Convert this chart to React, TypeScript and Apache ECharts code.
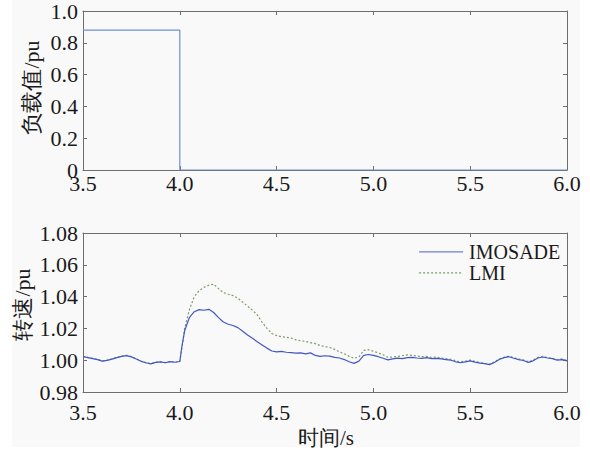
import React, { useEffect, useRef } from "react";
import * as echarts from "echarts";

// Upper panel: load step
const loadTimes = [3.5, 4.0, 4.0, 6.0];
const loadValues = [0.88, 0.88, 0.0, 0.0];

// Lower panel: speed
const times = [
  3.5, 3.525, 3.55, 3.575, 3.6, 3.625, 3.65, 3.675, 3.7, 3.725, 3.75, 3.775, 3.8, 3.825, 3.85, 3.875, 3.9, 3.925, 3.95, 3.975,
  4.0, 4.01, 4.025, 4.05, 4.075, 4.1, 4.125, 4.15, 4.175, 4.2, 4.225, 4.25, 4.275, 4.3, 4.325, 4.35, 4.375, 4.4, 4.425, 4.45, 4.475,
  4.5, 4.525, 4.55, 4.575, 4.6, 4.625, 4.65, 4.675, 4.7, 4.725, 4.75, 4.775, 4.8, 4.825, 4.85, 4.875, 4.9, 4.925, 4.95, 4.975,
  5.0, 5.025, 5.05, 5.075, 5.1, 5.125, 5.15, 5.175, 5.2, 5.225, 5.25, 5.275, 5.3, 5.325, 5.35, 5.375, 5.4, 5.425, 5.45, 5.475,
  5.5, 5.525, 5.55, 5.575, 5.6, 5.625, 5.65, 5.675, 5.7, 5.725, 5.75, 5.775, 5.8, 5.825, 5.85, 5.875, 5.9, 5.925, 5.95, 5.975, 6.0,
];

const imosade = [
  1.0022, 1.0016, 1.001, 1.0004, 0.9994, 0.9999, 1.0007, 1.0016, 1.0024, 1.0029, 1.0021, 1.0008, 0.9993, 0.9984, 0.9977, 0.9986, 0.9989, 0.9984, 0.9991, 0.9987,
  0.9992, 1.008, 1.0185, 1.027, 1.0305, 1.0318, 1.0314, 1.032, 1.03, 1.0268, 1.024, 1.0226, 1.0218, 1.0205, 1.0182, 1.0158, 1.0138, 1.0116, 1.0096, 1.0076, 1.0058,
  1.0052, 1.0056, 1.005, 1.0048, 1.0044, 1.0046, 1.004, 1.0046, 1.003, 1.0024, 1.0028, 1.0026, 1.0018, 1.0014, 1.0004, 0.999, 0.998, 0.9994, 1.003, 1.0036,
  1.003, 1.0022, 1.0012, 1.0002, 1.0008, 1.0013, 1.001, 1.0016, 1.0018, 1.0014, 1.0012, 1.0016, 1.001, 1.0012, 1.0008, 1.0004, 1.0, 0.999, 0.9984, 0.999,
  0.9996, 0.9988, 0.9982, 0.9978, 0.9972, 0.9986, 1.0004, 1.0016, 1.0022, 1.0012, 1.0004, 0.9998, 0.9986, 0.9996, 1.0014, 1.002, 1.0014, 1.001, 1.0, 1.0004, 0.9996,
];

const lmi = [
  1.0024, 1.0018, 1.0012, 1.0005, 0.9995, 1.0001, 1.0009, 1.0018, 1.0026, 1.0031, 1.0022, 1.0009, 0.9994, 0.9985, 0.9978, 0.9987, 0.999, 0.9985, 0.9992, 0.9988,
  0.9992, 1.007, 1.02, 1.032, 1.04, 1.0438, 1.0458, 1.0472, 1.0478, 1.045, 1.0425, 1.0415, 1.0406, 1.039, 1.0365, 1.034, 1.0315, 1.0285, 1.024, 1.02, 1.0168,
  1.0155, 1.0148, 1.0144, 1.014, 1.0128, 1.0122, 1.0118, 1.011, 1.0104, 1.0092, 1.0086, 1.008, 1.0068, 1.0052, 1.004, 1.0024, 1.0012, 1.002, 1.0062, 1.0066,
  1.0056, 1.0046, 1.0034, 1.0018, 1.002, 1.0024, 1.0028, 1.0034, 1.003, 1.0026, 1.0022, 1.0024, 1.0018, 1.002, 1.0014, 1.001, 1.0006, 0.9996, 0.999, 0.9994,
  1.0, 0.9992, 0.9986, 0.998, 0.9975, 0.999, 1.0008, 1.0018, 1.0026, 1.0016, 1.0008, 1.0002, 0.999, 1.0, 1.0018, 1.0024, 1.0016, 1.0012, 1.0004, 1.0008, 0.9998,
];

// Tick labels
const xTicks = [3.5, 4.0, 4.5, 5.0, 5.5, 6.0];
const xTickLabels = ["3.5", "4.0", "4.5", "5.0", "5.5", "6.0"];
const yTopTicks = [0, 0.2, 0.4, 0.6, 0.8, 1.0];
const yTopTickLabels = ["0", "0.2", "0.4", "0.6", "0.8", "1.0"];
const yBottomTicks = [0.98, 1.0, 1.02, 1.04, 1.06, 1.08];
const yBottomTickLabels = ["0.98", "1.00", "1.02", "1.04", "1.06", "1.08"];

const seriesNames = ["IMOSADE", "LMI"];
const xTitle = "时间/s";
const yTitleTop = "负载值/pu";
const yTitleBottom = "转速/pu";

const TICK_FONT = "22px Liberation Serif";
const NAME_FONT = "22px Liberation Serif";
const LEGEND_FONT = "20px Liberation Serif";
const AXIS_COLOR = "#6e6e6e";
const TEXT_COLOR = "#1a1a1a";
const BLUE = "#4357c4";
const GREEN = "#7f9c68";

export default function App() {
  const ref = useRef<HTMLDivElement>(null);

  useEffect(() => {
    document.body.style.margin = "0";
    document.body.style.background = "#ffffff";
    const chart = echarts.init(ref.current!, null, { renderer: "svg" });

    const xAxisDef = (gridIndex: number, position: "top" | "bottom") => ({
      type: "value" as const,
      gridIndex,
      min: 3.5,
      max: 6.0,
      interval: 0.5,
      position,
      axisLine: { show: true, onZero: false, lineStyle: { color: AXIS_COLOR, width: 1 } },
      axisTick: { show: true, inside: true, length: 4, lineStyle: { color: AXIS_COLOR } },
      axisLabel: { show: false },
      splitLine: { show: false },
    });

    const yAxisDef = (gridIndex: number, min: number, max: number, interval: number, position: "left" | "right") => ({
      type: "value" as const,
      gridIndex,
      min,
      max,
      interval,
      position,
      axisLine: { show: true, onZero: false, lineStyle: { color: AXIS_COLOR, width: 1 } },
      axisTick: { show: true, inside: true, length: 4, lineStyle: { color: AXIS_COLOR } },
      axisLabel: { show: false },
      splitLine: { show: false },
    });

    chart.setOption({
      animation: false,
      backgroundColor: "#ffffff",
      grid: [
        { left: 83, top: 11, width: 484, height: 159 },
        { left: 83, top: 233, width: 484, height: 159 },
      ],
      xAxis: [xAxisDef(0, "bottom"), xAxisDef(1, "bottom"), xAxisDef(0, "top"), xAxisDef(1, "top")],
      yAxis: [
        yAxisDef(0, 0, 1, 0.2, "left"),
        yAxisDef(1, 0.98, 1.08, 0.02, "left"),
        yAxisDef(0, 0, 1, 0.2, "right"),
        yAxisDef(1, 0.98, 1.08, 0.02, "right"),
      ],
      series: [
        {
          type: "line",
          name: "load",
          xAxisIndex: 0,
          yAxisIndex: 0,
          data: loadTimes.map((t, i) => [t, loadValues[i]]),
          showSymbol: false,
          symbol: "none",
          lineStyle: { color: "#6f8fd8", width: 1.2 },
          z: 1,
        },
        {
          type: "line",
          name: seriesNames[1],
          xAxisIndex: 1,
          yAxisIndex: 1,
          data: times.map((t, i) => [t, lmi[i]]),
          showSymbol: false,
          symbol: "none",
          lineStyle: { color: GREEN, width: 1.2, type: [2, 2] },
        },
        {
          type: "line",
          name: seriesNames[0],
          xAxisIndex: 1,
          yAxisIndex: 1,
          data: times.map((t, i) => [t, imosade[i]]),
          showSymbol: false,
          symbol: "none",
          lineStyle: { color: BLUE, width: 1.2 },
        },
      ],
    });

    const px = (grid: number, x: number, y: number) =>
      chart.convertToPixel({ gridIndex: grid } as any, [x, y]) as number[];

    const txt = (text: string, x: number, y: number, font: string, align: string, vAlign: string, rotation = 0) => ({
      type: "text",
      x,
      y,
      rotation,
      silent: true,
      style: {
        text,
        font,
        fill: TEXT_COLOR,
        align,
        verticalAlign: vAlign,
        textAlign: align,
        textVerticalAlign: vAlign,
      },
    });

    const graphics: any[] = [
      {
        type: "rect",
        silent: true,
        z: -10,
        shape: { x: 12, y: 0, width: 568, height: 447 },
        style: { fill: "#f9f9f9" },
      },
    ];

    // x tick labels
    xTicks.forEach((t, i) => {
      const p0 = px(0, t, 0);
      graphics.push(txt(xTickLabels[i], p0[0], p0[1] + 2, TICK_FONT, "center", "top"));
      const p1 = px(1, t, 0.98);
      graphics.push(txt(xTickLabels[i], p1[0], p1[1] + 9, TICK_FONT, "center", "top"));
    });
    // y tick labels
    yTopTicks.forEach((v, i) => {
      const p = px(0, 3.5, v);
      graphics.push(txt(yTopTickLabels[i], p[0] - 5, p[1], TICK_FONT, "right", "middle"));
    });
    yBottomTicks.forEach((v, i) => {
      const p = px(1, 3.5, v);
      graphics.push(txt(yBottomTickLabels[i], p[0] - 5, p[1], TICK_FONT, "right", "middle"));
    });

    // axis titles
    const topMid = px(0, 3.5, 0.5);
    graphics.push(txt(yTitleTop, topMid[0] - 52, topMid[1] - 3, NAME_FONT, "center", "middle", Math.PI / 2));
    const botMid = px(1, 3.5, 1.03);
    graphics.push(txt(yTitleBottom, botMid[0] - 61, botMid[1] - 8, NAME_FONT, "center", "middle", Math.PI / 2));
    const xMid = px(1, 4.75, 0.98);
    graphics.push(txt(xTitle, xMid[0] + 1, xMid[1] + 46, "21px Liberation Serif", "center", "middle"));

    // legend
    const legTop = px(1, 5.2, 1.07);
    const lx = legTop[0] + 7;
    const ly1 = legTop[1] + 3;
    const ly2 = ly1 + 21;
    graphics.push({
      type: "line",
      silent: true,
      shape: { x1: lx, y1: ly1, x2: lx + 44, y2: ly1 },
      style: { stroke: "#6f80d0", lineWidth: 1.2 },
    });
    graphics.push({
      type: "line",
      silent: true,
      shape: { x1: lx, y1: ly2, x2: lx + 44, y2: ly2 },
      style: { stroke: GREEN, lineWidth: 1.2, lineDash: [2, 2] },
    });
    graphics.push(txt(seriesNames[0], lx + 50, ly1, LEGEND_FONT, "left", "middle"));
    graphics.push(txt(seriesNames[1], lx + 50, ly2, LEGEND_FONT, "left", "middle"));

    chart.setOption({ graphic: graphics });

    return () => chart.dispose();
  }, []);

  return <div ref={ref} style={{ width: 590, height: 450 }} />;
}
